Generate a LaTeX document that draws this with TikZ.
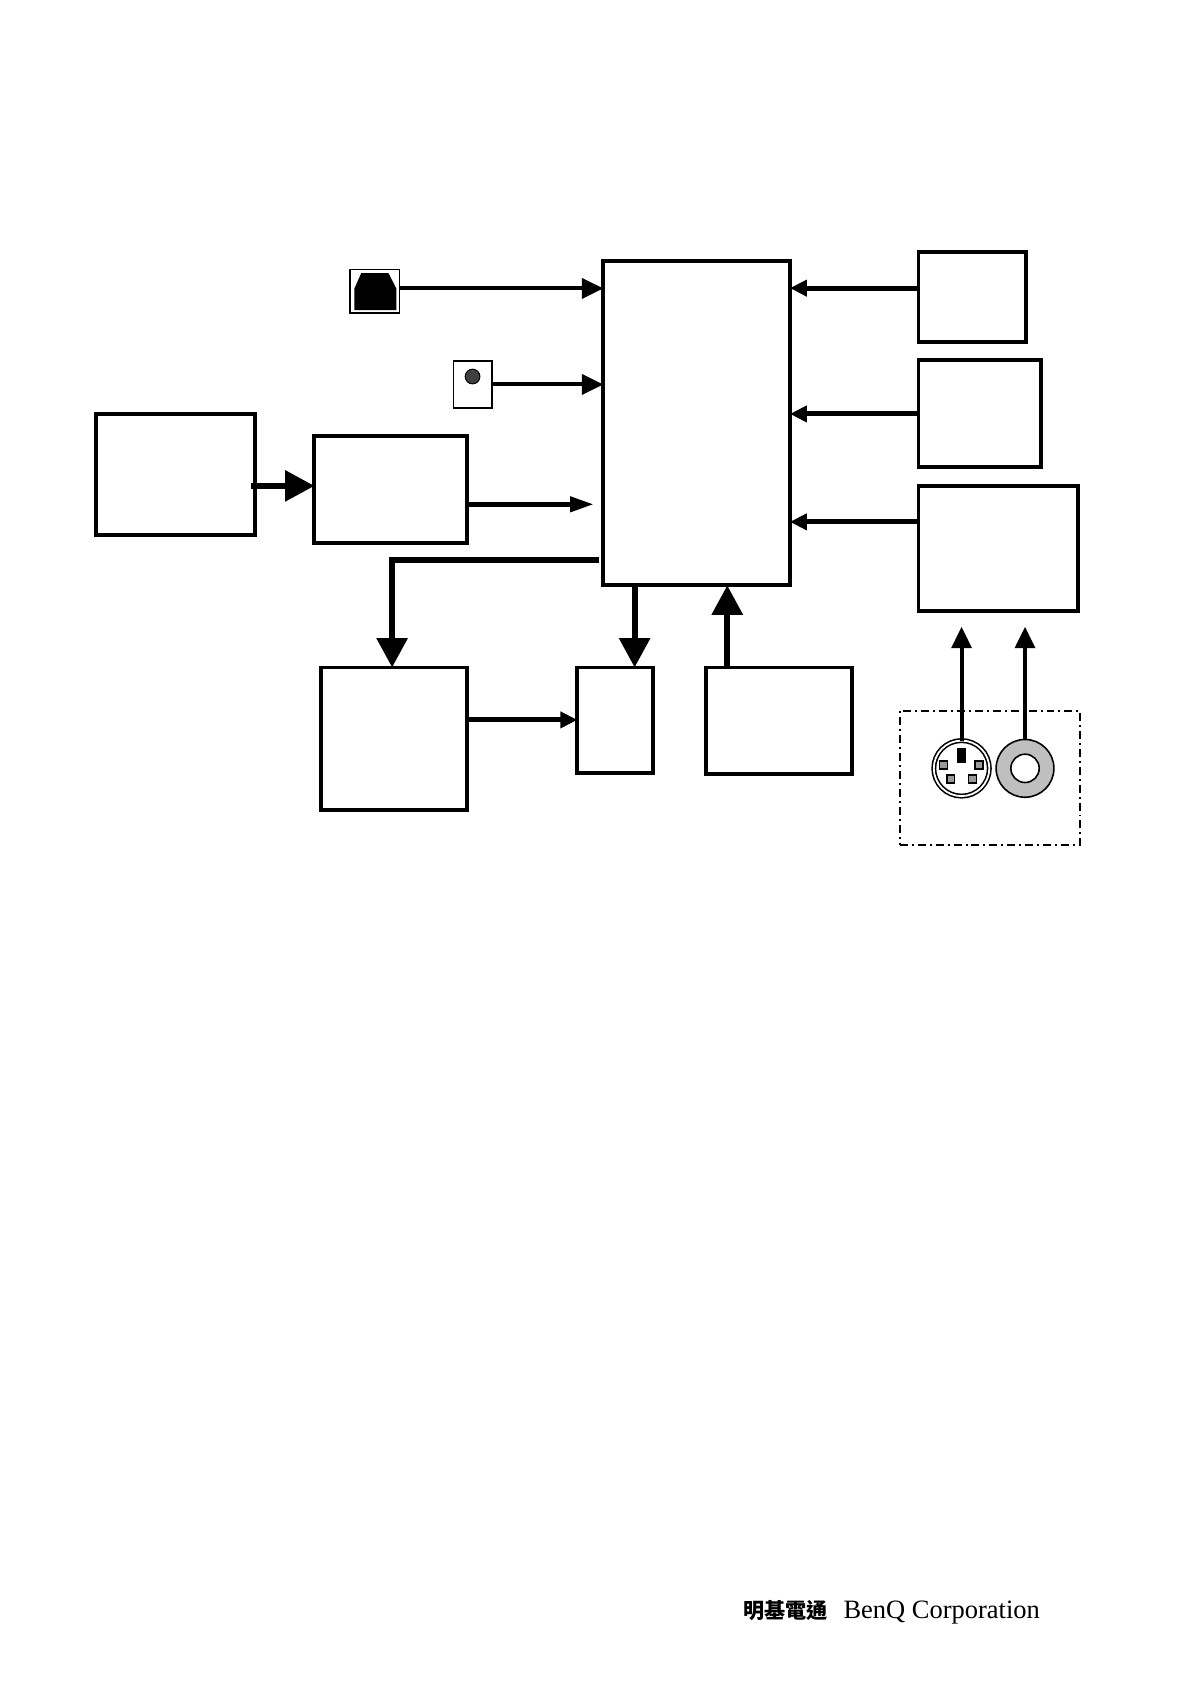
\documentclass[tikz,border=0pt]{standalone}
\usepackage{fontspec}
\usepackage{xcolor}
\newfontfamily\cjkfont{Noto Sans CJK TC}
\newfontfamily\benqfont{Liberation Serif}
\usepackage{tikz}
\usetikzlibrary{arrows.meta,positioning,calc}

\begin{document}
\begin{tikzpicture}[
    block/.style={draw,line width=2pt,outer sep=0pt,inner sep=0pt},
    port/.style={draw,line width=0.7pt,outer sep=0pt,inner sep=0pt},
    pin/.style={draw,line width=0.7pt,fill=gray!80,outer sep=0pt,inner sep=0pt,minimum size=0.14cm},
    thinarrow/.style={line width=2pt,-{Triangle[length=0.38cm,width=0.35cm]}},
    midarrow/.style={line width=2.5pt,-{Triangle[length=0.3cm,width=0.28cm]}},
    longarrow/.style={line width=2.5pt,-{Triangle[length=0.42cm,width=0.26cm]}},
    bigarrow/.style={line width=3pt,-{Triangle[length=0.52cm,width=0.53cm]}},
]
    \useasboundingbox (0,0) rectangle (21,-29.72);

    \node[block,anchor=north west,minimum width=3.29cm,minimum height=5.73cm] (mcu) at (10.65,-4.6) {};

    % right column
    \node[block,minimum width=1.9cm,minimum height=1.6cm,right=2.27cm of mcu.north east,anchor=north west,yshift=0.16cm] (keys) {};
    \node[block,minimum width=2.17cm,minimum height=1.89cm,below=0.32cm of keys.south west,anchor=north west] (eeprom) {};
    \node[block,minimum width=2.82cm,minimum height=2.22cm,below=0.32cm of eeprom.south west,anchor=north west] (kbc) {};

    % left side
    \node[block,minimum width=2.69cm,minimum height=1.88cm,left=2.41cm of mcu.north west,anchor=north east,yshift=-3.10cm] (hub) {};
    \node[block,minimum width=2.80cm,minimum height=2.15cm,left=1.05cm of hub.north west,anchor=north east,yshift=0.40cm] (psu) {};
    \node[block,minimum width=2.58cm,minimum height=2.51cm,below=2.20cm of hub.south west,anchor=north west,xshift=0.11cm] (codec) {};
    \node[block,minimum width=1.34cm,minimum height=1.87cm,right=1.95cm of codec.north east,anchor=north west] (amp) {};
    \node[block,minimum width=2.57cm,minimum height=1.88cm,right=0.93cm of amp.north east,anchor=north west] (flash) {};

    % ports
    \node[port,minimum width=0.87cm,minimum height=0.77cm,left=3.60cm of mcu.north west,anchor=north east,yshift=-0.155cm] (usb) {};
    \fill ([shift={(-0.36,-0.335)}]usb.center) -- ++(0,0.385) -- ++(0.12,0.27) -- ++(0.48,0) -- ++(0.14,-0.27) -- ++(0,-0.385) -- cycle;
    \node[port,minimum width=0.68cm,minimum height=0.83cm,left=1.97cm of mcu.west,anchor=east,yshift=0.68cm] (jack) {};
    \node[circle,draw,line width=0.5pt,fill=black!75,minimum size=0.26cm,inner sep=0pt,yshift=0.14cm] (jackpin) at (jack.center) {};

    % ps/2 and power sockets
    \node[draw,line width=1pt,dash pattern=on 4pt off 2pt on 1pt off 2pt,minimum width=3.18cm,minimum height=2.38cm,outer sep=0pt,below=1.75cm of kbc.south east,anchor=north east,xshift=0.03cm] (sockets) {};
    \node[circle,draw,line width=0.8pt,double,double distance=0.9pt,minimum size=0.98cm,inner sep=0pt,outer sep=0pt] (ps2) at ($(sockets.north west)+(1.09,-1.02)$) {};
    \node[draw,fill=black,inner sep=0pt,minimum width=0.15cm,minimum height=0.25cm] (ps2key) at ($(ps2)+(0,0.235)$) {};
    \node[pin] (ps2a) at ($(ps2)+(-0.32,0.06)$) {};
    \node[pin] (ps2b) at ($(ps2)+(0.31,0.06)$) {};
    \node[pin] (ps2c) at ($(ps2)+(-0.19,-0.19)$) {};
    \node[pin] (ps2d) at ($(ps2)+(0.19,-0.19)$) {};
    \node[circle,draw,line width=0.8pt,fill=gray!50,minimum size=1.02cm,inner sep=0pt,outer sep=0pt,right=0.12cm of ps2] (ring) {};
    \node[circle,draw,line width=0.8pt,fill=white,minimum size=0.5cm,inner sep=0pt] (ringhole) at (ring.center) {};

    % connectors
    \draw[thinarrow] ([yshift=0.05cm]usb.east) -- ([yshift=0.05cm]usb.east -| mcu.west);
    \draw[thinarrow] (jack.east) -- (jack.east -| mcu.west);
    \draw[bigarrow] ([xshift=-0.07cm,yshift=-0.2cm]psu.east) -- ([yshift=-0.2cm]psu.east -| hub.west);
    \draw[longarrow] ([yshift=-0.26cm]hub.east) -- ([xshift=-0.17cm,yshift=-0.26cm]hub.east -| mcu.west);
    \draw[bigarrow] ([xshift=-0.08cm,yshift=0.44cm]mcu.south west) -| ([xshift=-0.03cm]codec.north);
    \draw[bigarrow] ([xshift=0.34cm]amp.north |- mcu.south) -- ([xshift=0.34cm]amp.north);
    \draw[bigarrow] ([xshift=-0.91cm]flash.north) -- ([xshift=-0.91cm]flash.north |- mcu.south);
    \draw[midarrow] ([yshift=0.33cm]codec.east) -- ([yshift=0.33cm]codec.east -| amp.west);
    \draw[midarrow] ([yshift=0.155cm]keys.west) -- ([yshift=0.155cm]keys.west -| mcu.east);
    \draw[midarrow] (eeprom.west) -- (eeprom.west -| mcu.east);
    \draw[midarrow] ([yshift=0.47cm]kbc.west) -- ([yshift=0.47cm]kbc.west -| mcu.east);
    \draw[thinarrow] (ps2.north) -- ([yshift=-0.27cm]ps2.north |- kbc.south);
    \draw[thinarrow] (ring.north) -- ([yshift=-0.27cm]ring.north |- kbc.south);

    \node[anchor=base west,inner sep=0pt,font=\benqfont\fontsize{13.3}{16}\selectfont] (benq) at (14.88,-28.57) {BenQ Corporation};
    \node[anchor=base east,inner sep=0pt,font=\cjkfont\bfseries\fontsize{10.6}{13}\selectfont,xshift=-0.27cm] (benqcjk) at (benq.base west) {明基電通};
\end{tikzpicture}
\end{document}
